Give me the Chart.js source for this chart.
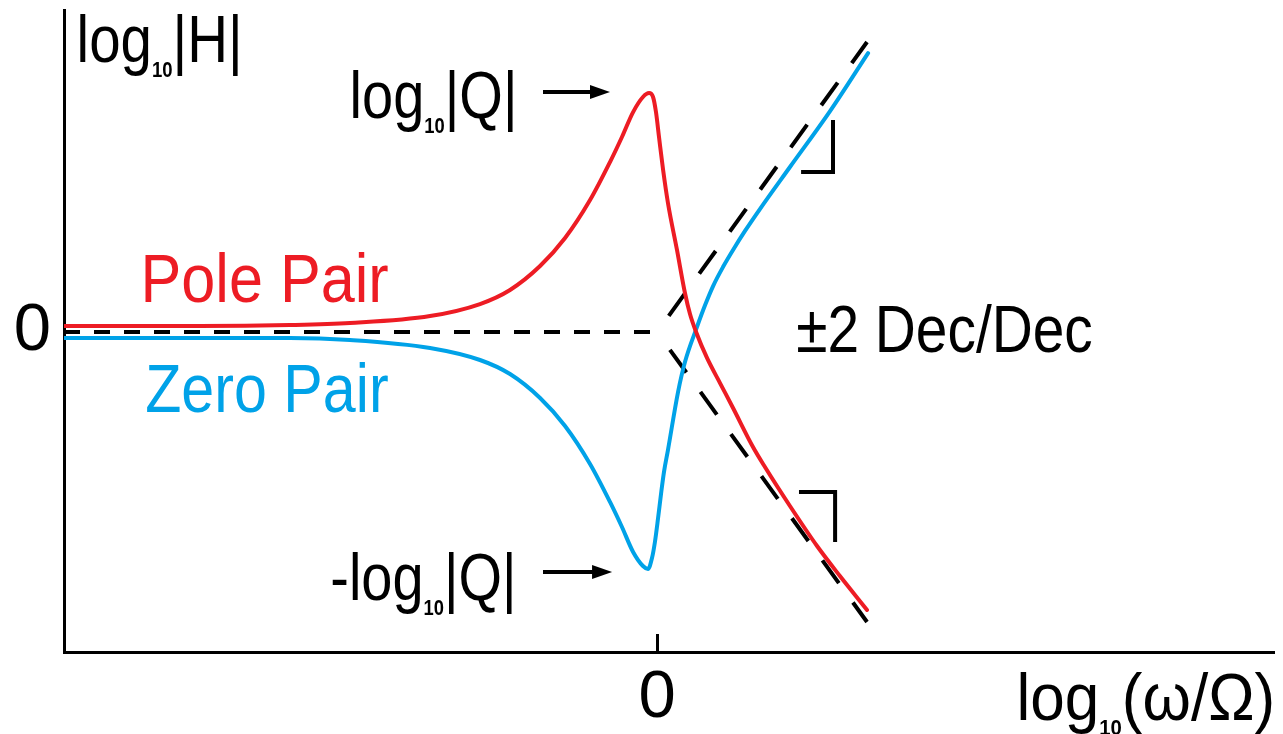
<!DOCTYPE html>
<html>
<head>
<meta charset="utf-8">
<script src="https://cdn.jsdelivr.net/npm/chart.js@4.4.0/dist/chart.umd.min.js"></script>
<style>
  html, body { margin: 0; padding: 0; background: #ffffff; }
  #wrap { width: 1283px; height: 734px; }
</style>
</head>
<body>
<div id="wrap"><canvas id="c" width="1283" height="734"></canvas></div>
<script>
// ---------- data (x = log10(w/Omega), y = log10|H|) ----------
const poleX = [-2.824, -2.176, -1.748, -1.462, -1.081, -0.843, -0.700, -0.557, -0.438, -0.319, -0.224, -0.167, -0.114, -0.067, -0.038, -0.019, -0.005, 0.010, 0.029, 0.052, 0.095, 0.133, 0.157, 0.186, 0.238, 0.300, 0.362, 0.457, 0.514, 0.633, 0.762, 0.871, 1.000];
const poleY = [0.041, 0.041, 0.048, 0.062, 0.110, 0.193, 0.290, 0.455, 0.648, 0.910, 1.172, 1.345, 1.517, 1.621, 1.648, 1.621, 1.517, 1.338, 1.117, 0.890, 0.566, 0.269, 0.124, 0.000, -0.179, -0.352, -0.524, -0.793, -0.931, -1.200, -1.476, -1.683, -1.917];

const zeroX = [-2.824, -2.176, -1.748, -1.462, -1.081, -0.843, -0.700, -0.557, -0.438, -0.319, -0.224, -0.167, -0.114, -0.067, -0.043, -0.024, -0.010, 0.005, 0.019, 0.033, 0.052, 0.100, 0.133, 0.190, 0.229, 0.267, 0.314, 0.362, 0.419, 0.490, 0.633, 0.824, 1.005];
const zeroY = [-0.041, -0.041, -0.041, -0.055, -0.110, -0.193, -0.290, -0.455, -0.648, -0.910, -1.172, -1.345, -1.517, -1.614, -1.634, -1.559, -1.448, -1.283, -1.117, -0.966, -0.814, -0.414, -0.207, 0.034, 0.186, 0.317, 0.448, 0.566, 0.697, 0.848, 1.138, 1.524, 1.924];

// straight-line asymptotes: flat at 0, then +/-2 decades per decade
const flatX = [-2.824, 0];
const flatY = [0, 0];
const riseX = [0, 1.0];
const riseY = [0, 2.0];
const fallX = [0, 1.0];
const fallY = [0, -2.0];

// right-angle slope markers
const markUpX = [0.686, 0.838, 0.838];
const markUpY = [1.103, 1.103, 1.462];
const markDnX = [0.676, 0.848, 0.848];
const markDnY = [-1.103, -1.103, -1.448];

// tick labels
const xTickValues = [0];
const yTickValues = [0];

const RED = '#ED1C24';
const BLUE = '#00A2E8';
const FAMILY = '"Liberation Sans", "DejaVu Sans", sans-serif';

function pts(xs, ys) { return xs.map((x, i) => ({ x: x, y: ys[i] })); }

// ---------- annotations (data coordinates) ----------
const texts = [
  { runs: [['log'], ['10', 1], ['|H|']], x0: -2.748, x1: -1.995, y: 1.862, size: 67, color: '#000' },
  { runs: [['log'], ['10', 1], ['|Q|']], x0: -1.448, x1: -0.686, y: 1.476, size: 67, color: '#000' },
  { runs: [['-log'], ['10', 1], ['|Q|']], x0: -1.548, x1: -0.690, y: -1.848, size: 67, color: '#000' },
  { runs: [['Pole Pair']], x0: -2.438, x1: -1.281, y: 0.207, size: 68, color: RED },
  { runs: [['Zero Pair']], x0: -2.429, x1: -1.281, y: -0.552, size: 68, color: BLUE },
  { runs: [['\u00B12 Dec/Dec']], x0: 0.671, x1: 2.071, y: -0.138, size: 66, color: '#000' },
  { runs: [['log'], ['10', 1], ['(\u03C9/\u03A9)']], x0: 1.729, x1: 2.929, y: -2.676, size: 67, color: '#000' }
];
const arrows = [
  { x0: -0.543, x1: -0.224, y: 1.655 },
  { x0: -0.543, x1: -0.214, y: -1.655 }
];

function drawRuns(ctx, t, xs, ys) {
  const left = xs.getPixelForValue(t.x0);
  const right = xs.getPixelForValue(t.x1);
  const base = ys.getPixelForValue(t.y);
  const sub = 22;
  const subDy = 15;
  let pos = 0, inkL = null, inkR = 0;
  const info = t.runs.map((r) => {
    ctx.font = (r[1] ? 'bold ' + sub : t.size) + 'px ' + FAMILY;
    const m = ctx.measureText(r[0]);
    const item = { text: r[0], font: ctx.font, x: pos, dy: r[1] ? subDy : 0 };
    if (inkL === null) inkL = pos - m.actualBoundingBoxLeft;
    inkR = pos + m.actualBoundingBoxRight;
    pos += m.width;
    return item;
  });
  const sx = (right - left) / (inkR - inkL);
  ctx.save();
  ctx.translate(left, base);
  ctx.scale(sx, 1);
  ctx.translate(-inkL, 0);
  ctx.fillStyle = t.color;
  ctx.textAlign = 'left';
  ctx.textBaseline = 'alphabetic';
  info.forEach((it) => { ctx.font = it.font; ctx.fillText(it.text, it.x, it.dy); });
  ctx.restore();
}

const annotate = {
  id: 'annotate',
  afterDatasetsDraw(chart) {
    const ctx = chart.ctx;
    const xs = chart.scales.x, ys = chart.scales.y;
    const area = chart.chartArea;
    ctx.save();
    // tick mark at x = 0, pointing into the plot
    ctx.strokeStyle = '#000';
    ctx.lineWidth = 3;
    xTickValues.forEach((v) => {
      const px = Math.round(xs.getPixelForValue(v)) + 0.5;
      ctx.beginPath();
      ctx.moveTo(px, area.bottom);
      ctx.lineTo(px, area.bottom - 18);
      ctx.stroke();
    });
    // arrows
    arrows.forEach((a) => {
      const x0 = xs.getPixelForValue(a.x0), x1 = xs.getPixelForValue(a.x1), y = ys.getPixelForValue(a.y);
      ctx.lineWidth = 4;
      ctx.beginPath();
      ctx.moveTo(x0, y);
      ctx.lineTo(x1 - 16, y);
      ctx.stroke();
      ctx.fillStyle = '#000';
      ctx.beginPath();
      ctx.moveTo(x1, y);
      ctx.lineTo(x1 - 20, y - 7);
      ctx.lineTo(x1 - 20, y + 7);
      ctx.closePath();
      ctx.fill();
    });
    texts.forEach((t) => drawRuns(ctx, t, xs, ys));
    ctx.restore();
  }
};

new Chart(document.getElementById('c'), {
  type: 'line',
  data: {
    datasets: [
      { label: 'Pole Pair', data: pts(poleX, poleY), borderColor: RED, borderWidth: 4, cubicInterpolationMode: 'monotone', borderCapStyle: 'round', borderJoinStyle: 'round' },
      { label: 'Zero Pair', data: pts(zeroX, zeroY), borderColor: BLUE, borderWidth: 4, cubicInterpolationMode: 'monotone', borderCapStyle: 'round', borderJoinStyle: 'round' },
      { label: 'slope mark up', data: pts(markUpX, markUpY), borderColor: '#000', borderWidth: 4, tension: 0 },
      { label: 'slope mark down', data: pts(markDnX, markDnY), borderColor: '#000', borderWidth: 4, tension: 0 },
      { label: 'asymptote flat', data: pts(flatX, flatY), borderColor: '#000', borderWidth: 4, borderDash: [16, 14], tension: 0 },
      { label: 'asymptote rise', data: pts(riseX, riseY), borderColor: '#000', borderWidth: 4, borderDash: [28, 24], borderDashOffset: 32, tension: 0 },
      { label: 'asymptote fall', data: pts(fallX, fallY), borderColor: '#000', borderWidth: 4, borderDash: [28, 24], borderDashOffset: 30, tension: 0 }
    ]
  },
  options: {
    responsive: false,
    animation: false,
    devicePixelRatio: 1,
    layout: { padding: { left: 0, right: 9, top: 10, bottom: 0 } },
    elements: { point: { radius: 0, hoverRadius: 0 } },
    plugins: { legend: { display: false }, tooltip: { enabled: false } },
    scales: {
      x: {
        type: 'linear',
        min: -2.824, max: 2.938,
        grid: { display: false, drawTicks: false },
        border: { display: true, color: '#000', width: 3 },
        ticks: { color: '#000', font: { size: 67, family: FAMILY }, padding: 6, maxRotation: 0, autoSkip: false },
        afterBuildTicks: (s) => { s.ticks = xTickValues.map((v) => ({ value: v })); },
        afterFit: (s) => { s.height = 82; s.paddingLeft = 0; s.paddingRight = 0; }
      },
      y: {
        type: 'linear',
        min: -2.207, max: 2.221,
        grid: { display: false, drawTicks: false },
        border: { display: true, color: '#000', width: 3 },
        ticks: { color: '#000', font: { size: 67, family: FAMILY }, padding: 13 },
        afterBuildTicks: (s) => { s.ticks = yTickValues.map((v) => ({ value: v })); },
        afterFit: (s) => { s.width = 64; s.paddingTop = 0; s.paddingBottom = 0; }
      }
    }
  },
  plugins: [annotate]
});
</script>
</body>
</html>
